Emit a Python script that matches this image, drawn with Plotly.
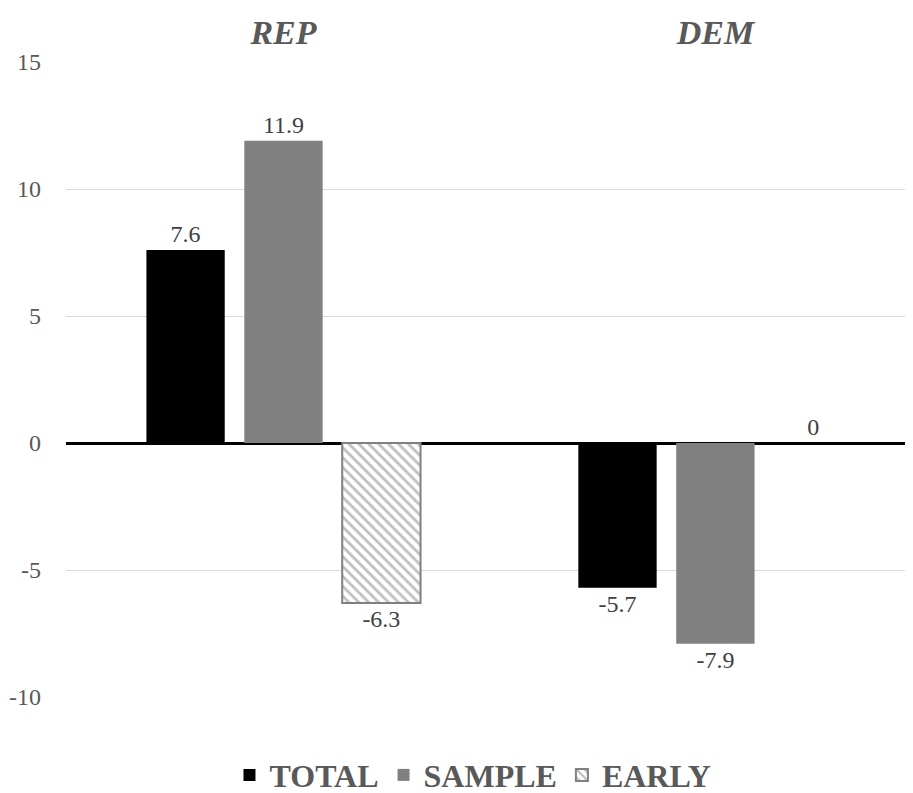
import plotly.graph_objects as go

categories = ["REP", "DEM"]
total = [7.6, -5.7]
sample = [11.9, -7.9]
early = [-6.3, 0]
y_ticks = [-10, -5, 0, 5, 10, 15]
y_tick_labels = ["-10", "-5", "0", "5", "10", "15"]

FONT = "Liberation Serif"
x_idx = [0, 1]

fig = go.Figure()
fig.add_trace(go.Bar(
    name="TOTAL", x=x_idx, y=total, marker=dict(color="#000000", line=dict(width=0)),
    text=[str(v) for v in total], textposition="outside",
    textfont=dict(family=FONT, size=24, color="#404040"), cliponaxis=False))
fig.add_trace(go.Bar(
    name="SAMPLE", x=x_idx, y=sample, marker=dict(color="#808080", line=dict(width=0)),
    text=[str(v) for v in sample], textposition="outside",
    textfont=dict(family=FONT, size=24, color="#404040"), cliponaxis=False))
fig.add_trace(go.Bar(
    name="EARLY", x=x_idx, y=early,
    marker=dict(color="#ffffff", line=dict(color="#808080", width=[2, 0]),
                pattern=dict(shape="\\", fgcolor="#808080", bgcolor="#ffffff",
                             size=7, solidity=0.4)),
    text=[str(v) for v in early], textposition="outside",
    textfont=dict(family=FONT, size=24, color="#404040"), cliponaxis=False))

fig.update_layout(
    width=913, height=793,
    paper_bgcolor="white", plot_bgcolor="white",
    margin=dict(l=58, r=0, t=54, b=104, autoexpand=False),
    barmode="group", bargap=0.32, bargroupgap=0.2,
    font=dict(family=FONT, color="#595959", size=22),
    legend=dict(orientation="h", x=0.476, xanchor="center", y=-0.123, yanchor="middle",
                font=dict(family=FONT, size=32, color="#595959", weight="bold"),
                itemwidth=30, traceorder="normal"),
    showlegend=True,
)
fig.update_xaxes(
    side="top", tickmode="array", tickvals=x_idx,
    ticktext=list(categories),
    tickfont=dict(family=FONT, size=34, color="#595959", weight="bold", style="italic"),
    range=[-0.5035, 1.476], showgrid=False, zeroline=False, showline=False,
    ticks="", ticklabelstandoff=10, automargin=False,
)
fig.update_yaxes(
    range=[-10, 15], tickvals=y_ticks, ticktext=y_tick_labels,
    showgrid=True, gridcolor="#d9d9d9", gridwidth=1,
    zeroline=True, zerolinecolor="#000000", zerolinewidth=3,
    tickfont=dict(family=FONT, size=24, color="#595959"), ticks="",
    ticklabelstandoff=24, showline=False, automargin=False,
)

fig.write_html("out.html")
